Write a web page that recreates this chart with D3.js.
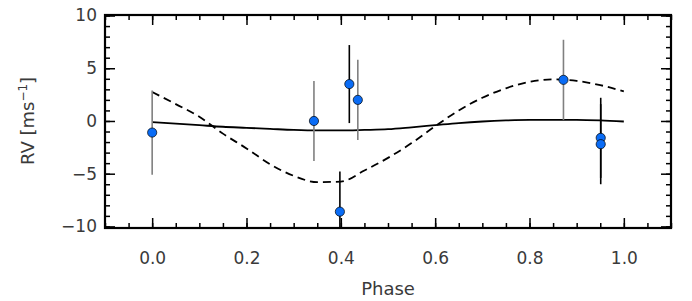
<!DOCTYPE html>
<html>
<head>
<meta charset="utf-8">
<script src="https://cdn.jsdelivr.net/npm/d3@7"></script>
<style>
  body { margin: 0; background: #fff; }
  text { font-family: "DejaVu Sans", "Liberation Sans", sans-serif; fill: #3a3a3a; }
  .axis path { display: none; }
  .axis line { stroke: #000; stroke-width: 1.5; }
</style>
</head>
<body>
<div id="chart"></div>
<script>
// RV measurements
var phase = [0.000, 0.343, 0.418, 0.436, 0.398, 0.872, 0.951, 0.951];
var rv    = [-1.1, 0.0, 3.5, 2.0, -8.6, 3.9, -1.6, -2.2];
var rvErr = [4.0, 3.8, 3.7, 3.8, 3.8, 3.8, 3.8, 3.8];
var errColour = ["#808080", "#808080", "#000", "#808080", "#000", "#808080", "#000", "#000"];

// model curves
var modelPhase  = [0.00, 0.05, 0.10, 0.15, 0.20, 0.25, 0.30, 0.35, 0.40, 0.45, 0.50,
                   0.55, 0.60, 0.65, 0.70, 0.75, 0.80, 0.85, 0.90, 0.95, 1.00];
var modelSolid  = [-0.1, -0.25, -0.4, -0.55, -0.65, -0.75, -0.85, -0.9, -0.9, -0.85, -0.78,
                   -0.6, -0.4, -0.2, -0.05, 0.05, 0.1, 0.1, 0.1, 0.05, -0.05];
var modelDashed = [2.75, 1.6, 0.4, -1.2, -2.6, -4.1, -5.2, -5.8, -5.75, -4.7, -3.5,
                   -2.1, -0.5, 1.0, 2.2, 3.1, 3.7, 3.95, 3.8, 3.4, 2.8];

var xTicks = [0.0, 0.2, 0.4, 0.6, 0.8, 1.0];
var yTicks = [-10, -5, 0, 5, 10];

var width = 692, height = 301;
var margin = { top: 15, right: 21, bottom: 73, left: 105 };

var svg = d3.select("#chart").append("svg")
    .attr("width", width)
    .attr("height", height);

var x = d3.scaleLinear().domain([-0.1, 1.1]).range([margin.left, width - margin.right]);
var y = d3.scaleLinear().domain([-10.15, 10.05]).range([height - margin.bottom, margin.top]);

var x0 = margin.left, x1 = width - margin.right, y0 = height - margin.bottom, y1 = margin.top;

svg.append("clipPath").attr("id", "clip")
    .append("rect")
    .attr("x", x0).attr("y", y1)
    .attr("width", x1 - x0).attr("height", y0 - y1);

var xMinor = d3.range(-0.1, 1.1001, 0.05);
var yMinor = d3.range(-10, 10.001, 1);

// major/minor ticks, all pointing inward
function addAxis(axisFn, scale, pos, major, minor, labels, pad) {
    svg.append("g")
        .attr("class", "axis")
        .attr("transform", pos)
        .call(axisFn(scale).tickValues(minor).tickSize(-5).tickFormat(""));
    var g = svg.append("g")
        .attr("class", "axis")
        .attr("transform", pos)
        .call(axisFn(scale).tickValues(major).tickSize(-10).tickPadding(pad)
            .tickFormat(labels ? labels : ""));
    g.selectAll("text")
        .style("font-family", "DejaVu Sans, sans-serif")
        .style("font-size", "17px")
        .style("fill", "#3a3a3a");
    return g;
}

addAxis(d3.axisBottom, x, "translate(0," + y0 + ")", xTicks, xMinor, d3.format(".1f"), 24);
addAxis(d3.axisTop, x, "translate(0," + y1 + ")", xTicks, xMinor, null, 3);
addAxis(d3.axisLeft, y, "translate(" + x0 + ",0)", yTicks, yMinor,
    function(d) { return d3.format("d")(d).replace("-", "\u2212"); }, 8);
addAxis(d3.axisRight, y, "translate(" + x1 + ",0)", yTicks, yMinor, null, 3);

// frame
svg.append("rect")
    .attr("x", x0).attr("y", y1)
    .attr("width", x1 - x0).attr("height", y0 - y1)
    .attr("fill", "none")
    .attr("stroke", "#000")
    .attr("stroke-width", 2.2);

var plot = svg.append("g").attr("clip-path", "url(#clip)");

var modelLine = d3.line()
    .x(function(d, i) { return x(modelPhase[i]); })
    .y(function(d) { return y(d); })
    .curve(d3.curveMonotoneX);

plot.append("path")
    .attr("d", modelLine(modelSolid))
    .attr("fill", "none")
    .attr("stroke", "#000")
    .attr("stroke-width", 1.8);

plot.append("path")
    .attr("d", modelLine(modelDashed))
    .attr("fill", "none")
    .attr("stroke", "#000")
    .attr("stroke-width", 1.8)
    .attr("stroke-dasharray", "8,5");

// error bars
plot.selectAll(".err")
    .data(phase)
    .enter().append("line")
    .attr("class", "err")
    .attr("x1", function(d) { return x(d); })
    .attr("x2", function(d) { return x(d); })
    .attr("y1", function(d, i) { return y(rv[i] + rvErr[i]); })
    .attr("y2", function(d, i) { return y(rv[i] - rvErr[i]); })
    .attr("stroke", function(d, i) { return errColour[i]; })
    .attr("stroke-width", 1.6);

plot.selectAll(".pt")
    .data(phase)
    .enter().append("circle")
    .attr("class", "pt")
    .attr("cx", function(d) { return x(d); })
    .attr("cy", function(d, i) { return y(rv[i]); })
    .attr("r", 4.6)
    .attr("fill", "#0a6cf5")
    .attr("stroke", "#000")
    .attr("stroke-width", 0.7);

// axis titles
svg.append("text")
    .attr("x", (x0 + x1) / 2)
    .attr("y", 295)
    .attr("text-anchor", "middle")
    .style("font-size", "18px")
    .text("Phase");

var yt = svg.append("text")
    .attr("transform", "translate(34," + y(0) + ") rotate(-90)")
    .attr("text-anchor", "middle")
    .style("font-size", "18px");
yt.append("tspan").text("RV [ms");
yt.append("tspan").attr("dy", -7).style("font-size", "12px").text("\u22121");
yt.append("tspan").attr("dy", 7).text("]");
</script>
</body>
</html>
